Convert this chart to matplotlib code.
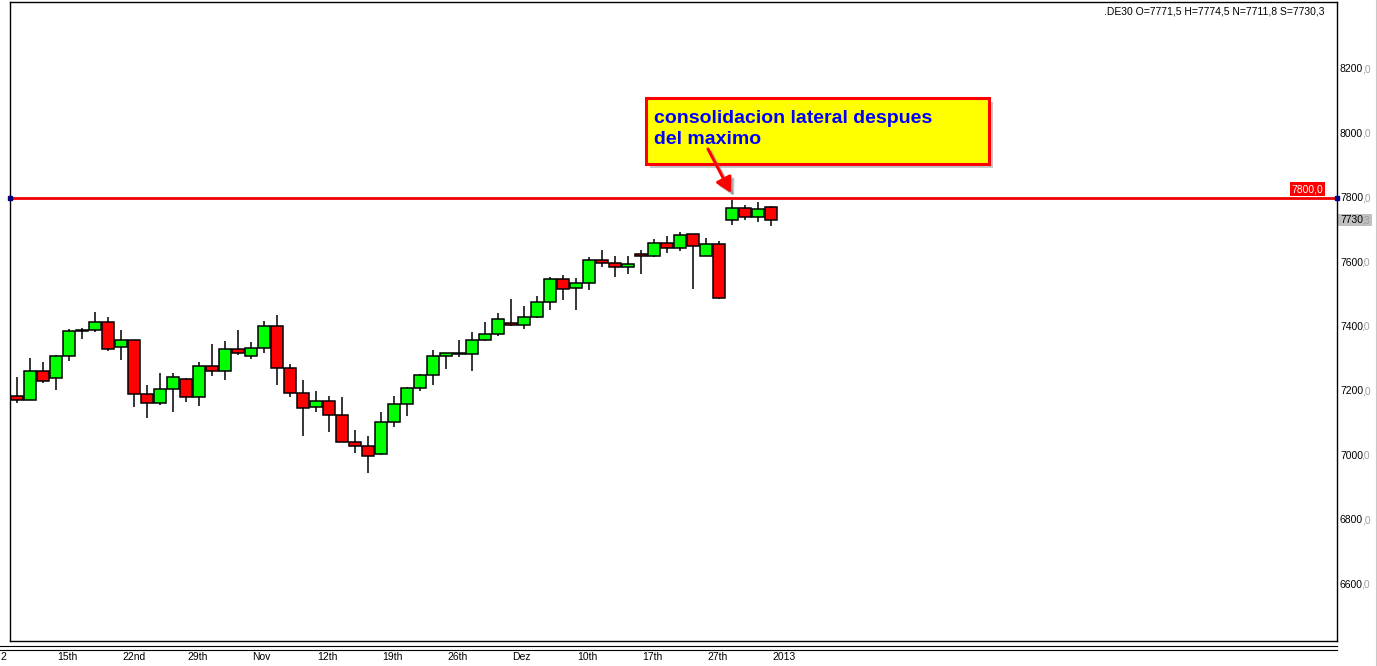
import matplotlib
matplotlib.use("Agg")
import matplotlib.pyplot as plt
from matplotlib.lines import Line2D
from matplotlib.patches import Rectangle, FancyArrowPatch
from matplotlib.transforms import blended_transform_factory, IdentityTransform

plt.rcParams['font.family'] = ['Liberation Sans', 'DejaVu Sans']

# .DE30 daily candles, 10 Oct 2012 .. 7 Jan 2013
opens = [7186, 7174, 7263, 7242, 7310, 7388, 7390, 7415, 7338, 7359,
         7192, 7164, 7208, 7239, 7183, 7279, 7263, 7332, 7310, 7335,
         7403, 7273, 7195, 7152, 7171, 7127, 7044, 7031, 7006, 7106,
         7161, 7211, 7251, 7310, 7317, 7316, 7359, 7378, 7412, 7406,
         7431, 7477, 7548, 7520, 7536, 7607, 7598, 7585, 7626, 7620,
         7660, 7644, 7688, 7620, 7657, 7731, 7768, 7740, 7771.5]
highs = [7246, 7304, 7292, 7312, 7394, 7398, 7447, 7432, 7391, 7360,
         7221, 7258, 7258, 7242, 7292, 7348, 7357, 7391, 7354, 7419,
         7438, 7286, 7236, 7202, 7186, 7183, 7079, 7061, 7135, 7187,
         7215, 7255, 7329, 7320, 7360, 7385, 7416, 7444, 7486, 7465,
         7497, 7554, 7562, 7552, 7616, 7639, 7620, 7620, 7638, 7672,
         7681, 7694, 7689, 7675, 7666, 7793, 7777, 7787, 7774.5]
lows = [7165, 7172, 7227, 7203, 7293, 7364, 7383, 7326, 7298, 7151,
        7117, 7159, 7135, 7167, 7154, 7249, 7234, 7312, 7302, 7319,
        7220, 7183, 7061, 7137, 7073, 7042, 7008, 6946, 7003, 7089,
        7123, 7200, 7219, 7271, 7306, 7262, 7358, 7371, 7402, 7395,
        7427, 7454, 7485, 7454, 7516, 7585, 7556, 7563, 7564, 7617,
        7629, 7635, 7519, 7619, 7486, 7715, 7731, 7725, 7711.8]
closes = [7174, 7263, 7232, 7310, 7387, 7390, 7415, 7332, 7359, 7192,
          7164, 7208, 7245, 7183, 7279, 7263, 7332, 7319, 7335, 7403,
          7273, 7195, 7149, 7171, 7127, 7044, 7031, 7000, 7106, 7161,
          7211, 7251, 7310, 7319, 7318, 7359, 7378, 7424, 7406, 7431,
          7477, 7548, 7517, 7536, 7607, 7598, 7585, 7595, 7620, 7660,
          7644, 7685, 7650, 7657, 7489, 7768, 7740, 7765, 7730.3]

week_idx = [3, 8, 13, 18, 23, 28, 33, 38, 43, 48, 53, 58]
week_labels = ['15th', '22nd', '29th', 'Nov', '12th', '19th', '26th', 'Dez',
               '10th', '17th', '27th', '2013']
price_ticks = [6600, 6800, 7000, 7200, 7400, 7600, 7800, 8000, 8200]
resistance = 7800.0
last_price = 7730.3


def fmt(v):
    return f'{v:.1f}'.replace('.', ',')


W, H = 1377, 666
fig = plt.figure(figsize=(W / 100, H / 100), dpi=100)
fig.patch.set_facecolor('white')
renderer = fig.canvas.get_renderer()

# plot box in pixels: left 10, right 1337, top 2, bottom 641
ax = fig.add_axes([10 / W, (H - 641) / H, (1337 - 10) / W, (641 - 2) / H])
ax.set_xlim(-0.54, 101.54)
ax.set_ylim(6426, 8408)
ax.set_xticks([])
ax.set_yticks([])
for s in ax.spines.values():
    s.set_linewidth(1.0)

x = list(range(len(opens)))
colors = ['#00FF00' if c >= o else '#FF0000' for o, c in zip(opens, closes)]
bottoms = [min(o, c) for o, c in zip(opens, closes)]
heights = [max(abs(c - o), 0.8) for o, c in zip(opens, closes)]

ax.vlines(x, lows, highs, color='black', linewidth=1.1, zorder=2)
ax.bar(x, heights, bottom=bottoms, width=0.95, color=colors,
       edgecolor='black', linewidth=1.1, zorder=3)

# horizontal resistance line with end handles
ax.axhline(resistance, color='#F00000', linewidth=2.0, zorder=4)
ax.plot([-0.54, 101.54], [resistance, resistance], 's', color='#000080',
        markersize=3.5, clip_on=False, zorder=5)
ax.annotate(fmt(resistance), xy=(1, resistance),
            xycoords=ax.get_yaxis_transform(),
            xytext=(-14, 4), textcoords='offset pixels', ha='right',
            va='bottom', color='white', fontsize=7.5,
            bbox=dict(boxstyle='square,pad=0.15', facecolor='#FF0000',
                      edgecolor='none'))

# right price scale: integer part black, decimal part grey
ytr = ax.get_yaxis_transform()


def price_label(value, box=None):
    whole, dec = fmt(value).split(',')
    t1 = ax.annotate(whole, xy=(1, value), xycoords=ytr, xytext=(3, 0),
                     textcoords='offset pixels', ha='left', va='center',
                     fontsize=7.5, color='black', annotation_clip=False,
                     zorder=6)
    e1 = t1.get_window_extent(renderer)
    t2 = ax.annotate(',' + dec, xy=(1, value), xycoords=ytr,
                     xytext=(3 + e1.width - 1.5, 0),
                     textcoords='offset pixels', ha='left', va='center',
                     fontsize=7.5, color='#A0A0A0', annotation_clip=False,
                     zorder=6)
    if box:
        e2 = t2.get_window_extent(renderer)
        # below the axes in draw order, so the labels stay on top
        fig.add_artist(Rectangle((e1.x0 - 2, e1.y0 - 1),
                                 e2.x1 - e1.x0 + 4, e1.height + 2,
                                 facecolor=box, edgecolor='none',
                                 transform=IdentityTransform(), zorder=-1))


for t in price_ticks:
    price_label(t)
price_label(last_price, box='#C0C0C0')

# OHLC info line
info = '.DE30 O={} H={} N={} S={}'.format(
    fmt(opens[-1]), fmt(highs[-1]), fmt(lows[-1]), fmt(closes[-1]))
fig.text(1325 / W, 1 - 11 / H, info, ha='right', va='center', fontsize=7.5)

# date axis under the plot
for y in (646, 650):
    fig.add_artist(Line2D([0, 1337 / W], [1 - y / H, 1 - y / H],
                          color='black', linewidth=0.8))
xtr = blended_transform_factory(ax.transData, fig.transFigure)
for i, lab in zip(week_idx, week_labels):
    ax.text(i + 0.12, 1 - 657 / H, lab, transform=xtr, ha='left', va='center',
            fontsize=7.5, clip_on=False)
fig.text(0.5 / W, 1 - 657 / H, '2', ha='left', va='center', fontsize=7.5)
fig.add_artist(Line2D([1376 / W, 1376 / W], [0, 1], color='#C8C8C8',
                      linewidth=0.8))

# callout box
bx0, by0, bx1, by1 = 646, 98, 989, 164
fig.add_artist(Rectangle(((bx0 + 4) / W, 1 - (by1 + 4) / H),
                         (bx1 - bx0) / W, (by1 - by0) / H,
                         facecolor='#909090', edgecolor='none', alpha=0.5,
                         transform=fig.transFigure))
fig.add_artist(Rectangle((bx0 / W, 1 - by1 / H), (bx1 - bx0) / W,
                         (by1 - by0) / H, facecolor='#FFFF00',
                         edgecolor='#FF0000', linewidth=2.2,
                         transform=fig.transFigure))
fig.text(654 / W, 1 - 123 / H, 'consolidacion lateral despues', ha='left',
         va='baseline', fontsize=14, fontweight='bold', color='#0000FF')
fig.text(654 / W, 1 - 144 / H, 'del maximo', ha='left', va='baseline',
         fontsize=14, fontweight='bold', color='#0000FF')

# arrow from the callout down to the first candle of the new year
for dx, col, a in ((3, '#808080', 0.45), (0, '#FF0000', 1.0)):
    fig.add_artist(FancyArrowPatch(
        ((708 + dx) / W, 1 - (149 + dx) / H), ((731 + dx) / W, 1 - (193 + dx) / H),
        transform=fig.transFigure, arrowstyle='-|>,head_length=9,head_width=5',
        color=col, alpha=a, linewidth=2.2, shrinkA=0, shrinkB=0))

fig.savefig('out.png', dpi=100)
